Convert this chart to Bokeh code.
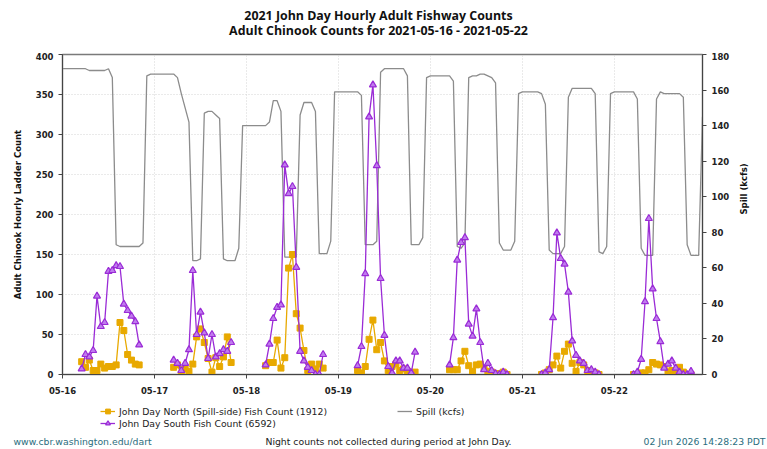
import math
import numpy as np
import pandas as pd
from bokeh.plotting import figure
from bokeh.models import (Range1d, LinearAxis, FixedTicker, SingleIntervalTicker,
                          DatetimeTickFormatter, Legend, LegendItem, Label, ColumnDataSource)
from bokeh.embed import file_html
from bokeh.resources import INLINE

# ---------------- data ----------------
start_date = "2021-05-16"
day_labels = ["05-16", "05-17", "05-18", "05-19", "05-20", "05-21", "05-22"]
count_first_hour = [5, 29, 53, 77, 101, 125, 149]   # first counted hour of each day

north_counts = [
    [16, 9, 18, 5, 5, 13, 8, 10, 10, 12, 65, 55, 25, 18, 13, 12],
    [9, 12, 0, 7, 4, 13, 47, 57, 40, 20, 3, 21, 10, 22, 47, 15],
    [11, 15, 15, 43, 8, 21, 133, 150, 76, 58, 30, 5, 13, 7, 13, 8],
    [5, 2, 10, 44, 68, 31, 40, 17, 5, 10, 13, 5, 7, 4, 1, 3],
    [6, 6, 6, 17, 29, 11, 4, 12, 13, 8, 4, 3, 1, 1, 3, 0],
    [0, 2, 6, 12, 23, 8, 29, 38, 14, 4, 15, 12, 5, 3, 2, 0],
    [0, 0, 2, 2, 6, 15, 13, 12, 10, 3, 5, 3, 9, 3, 0, 0],
]
south_counts = [
    [7, 25, 22, 30, 98, 60, 65, 129, 130, 136, 135, 88, 80, 73, 66, 37],
    [18, 14, 5, 14, 31, 130, 50, 78, 52, 20, 50, 22, 26, 31, 29, 40],
    [12, 38, 70, 84, 87, 262, 226, 235, 134, 29, 17, 9, 5, 0, 0, 25],
    [11, 35, 126, 322, 362, 261, 120, 49, 10, 2, 17, 17, 8, 8, 2, 28],
    [12, 46, 143, 165, 171, 63, 48, 82, 40, 6, 14, 5, 1, 0, 3, 0],
    [0, 2, 6, 71, 177, 145, 138, 103, 42, 24, 17, 14, 5, 6, 3, 0],
    [0, 3, 19, 91, 195, 107, 70, 41, 8, 13, 17, 8, 3, 0, 0, 4],
]
spill_kcfs = [
    172, 172, 172, 172, 172, 172, 172, 171, 171, 171, 171, 171, 172, 167, 73, 72, 72, 72, 72, 72, 72, 74, 168, 169,
    169, 169, 169, 169, 169, 169, 167, 158, 150, 142, 64, 64, 65, 147, 148, 148, 146, 144, 65, 64, 64, 64, 71, 140,
    140, 140, 140, 140, 140, 140, 142, 154, 154, 148, 66, 66, 66, 66, 146, 153, 153, 153, 148, 68, 68, 68, 75, 159,
    159, 159, 159, 159, 159, 159, 157, 73, 73, 73, 75, 170, 172, 172, 172, 172, 172, 172, 168, 73, 73, 73, 77, 167,
    168, 168, 168, 168, 168, 168, 165, 72, 71, 74, 167, 168, 168, 169, 169, 168, 167, 164, 74, 70, 70, 70, 75, 158,
    159, 159, 159, 159, 159, 158, 152, 70, 68, 68, 68, 72, 156, 161, 161, 161, 161, 161, 161, 158, 69, 68, 72, 158,
    159, 159, 159, 159, 159, 159, 155, 71, 67, 67, 67, 155, 159, 158, 158, 158, 158, 158, 156, 73, 67, 67, 67, 145,
]
north_total = 1912
south_total = 6592

title_lines = ["2021 John Day Hourly Adult Fishway Counts",
               "Adult Chinook Counts for 2021-05-16 - 2021-05-22"]
footer_left = "www.cbr.washington.edu/dart"
footer_mid = "Night counts not collected during period at John Day."
footer_right = "02 Jun 2026 14:28:23 PDT"

# ---------------- helpers ----------------
t0_ms = pd.Timestamp(start_date).value // 10**6
HOUR_MS = 3600 * 1000


def hour_ms(h):
    return t0_ms + h * HOUR_MS


def day_series(per_day):
    xs, ys = [], []
    for d, vals in enumerate(per_day):
        h0 = count_first_hour[d]
        for i, v in enumerate(vals):
            xs.append(hour_ms(h0 + i))
            ys.append(v)
        xs.append(hour_ms(h0 + len(vals) + 0.5))
        ys.append(np.nan)
    return xs, ys


nx, ny = day_series(north_counts)
sx, sy = day_series(south_counts)
spill_x = [hour_ms(h) for h in range(len(spill_kcfs))]
day_ticks = [hour_ms(24 * d) for d in range(len(day_labels))]

FONT = "DejaVu Sans"
YEL = "#E8A900"
PUR = "#9A2BD6"
PUR_FILL = "#C07BEE"
GRAY = "#8c8c8c"
W = 767

north_src = ColumnDataSource(dict(x=nx, y=ny))
south_src = ColumnDataSource(dict(x=sx, y=sy))
spill_src = ColumnDataSource(dict(x=spill_x, y=spill_kcfs))


def blank_fig(h):
    f = figure(width=W, height=h, output_backend="svg", toolbar_location=None,
               x_range=Range1d(0, W), y_range=Range1d(0, h),
               x_axis_location=None, y_axis_location=None, min_border=0)
    f.xgrid.visible = False
    f.ygrid.visible = False
    f.outline_line_color = None
    f.background_fill_color = "white"
    f.border_fill_color = "white"
    return f


def add_label(f, text, x, y, size, style="normal", align="center", color="#111111", font=FONT):
    f.add_layout(Label(x=x, y=y, text=text,
                       text_font=font, text_font_size=size, text_font_style=style,
                       text_align=align, text_baseline="middle", text_color=color))


def draw_series(f, y_range_name="default"):
    sp = f.line("x", "y", source=spill_src, y_range_name=y_range_name, line_color=GRAY, line_width=1.3)
    nl = f.line("x", "y", source=north_src, line_color=YEL, line_width=1.3)
    ns = f.scatter("x", "y", source=north_src, marker="square", size=6, fill_color=YEL, line_color=YEL)
    sl = f.line("x", "y", source=south_src, line_color=PUR, line_width=1.3)
    ss = f.scatter("x", "y", source=south_src, marker="triangle", size=7,
                   fill_color=PUR_FILL, line_color=PUR, line_width=1.2)
    return sp, nl, ns, sl, ss


# ---------------- title strip ----------------
TOP_H = 52
top = blank_fig(TOP_H)
add_label(top, title_lines[0], 378, TOP_H - 15, "12.4px", "bold", font="Open Sans")
add_label(top, title_lines[1], 378, TOP_H - 30, "12.4px", "bold", font="Open Sans")

# ---------------- main chart ----------------
MAIN_H = 346
p = figure(width=W, height=MAIN_H, output_backend="svg", toolbar_location=None,
           x_axis_type="datetime",
           x_range=Range1d(hour_ms(0), hour_ms(167)),
           y_range=Range1d(0, 400),
           min_border_left=62, min_border_right=65, min_border_top=2, min_border_bottom=24)
p.outline_line_color = "#7a7a7a"
p.outline_line_width = 1.5
p.background_fill_color = "white"
p.border_fill_color = "white"

p.extra_y_ranges = {"spill": Range1d(0, 180)}

p.xaxis.ticker = FixedTicker(ticks=day_ticks)
fmt = "%m-%d"
p.xaxis.formatter = DatetimeTickFormatter(days=fmt, months=fmt, hours=fmt, years=fmt,
                                          milliseconds=fmt, seconds=fmt, minsec=fmt,
                                          minutes=fmt, hourmin=fmt)
p.yaxis.ticker = SingleIntervalTicker(interval=50)
p.yaxis.axis_label = "Adult Chinook Hourly Ladder Count"

right = LinearAxis(y_range_name="spill", axis_label="Spill (kcfs)",
                   ticker=SingleIntervalTicker(interval=20))
p.add_layout(right, "right")

for ax in [p.xaxis[0], p.yaxis[0], right]:
    ax.axis_line_color = "#444444"
    ax.major_tick_line_color = "#444444"
    ax.minor_tick_line_color = None
    ax.major_tick_in = 0
    ax.major_tick_out = 4
    ax.major_label_text_font = FONT
    ax.major_label_text_font_style = "bold"
    ax.major_label_text_font_size = "8.5px"
    ax.major_label_text_color = "#222222"
    ax.axis_label_text_font = FONT
    ax.axis_label_text_font_style = "bold"
    ax.axis_label_text_font_size = "8.5px"
    ax.axis_label_text_color = "#111111"
p.xaxis.major_label_standoff = 8
p.yaxis.axis_label_standoff = 10
right.axis_label_standoff = 12
right.axis_label_orientation = math.pi / 2

p.xgrid.ticker = FixedTicker(ticks=day_ticks)
for g in [p.xgrid[0], p.ygrid[0]]:
    g.grid_line_color = "#d4d4d4"
    g.grid_line_dash = "1 2"
    g.grid_line_width = 1

draw_series(p, "spill")

# ---------------- legend + footer strip ----------------
BOT_H = 449 - TOP_H - MAIN_H
bot = blank_fig(BOT_H)
bot.extra_y_ranges = {"spill": Range1d(0, 180)}
# the same series, entirely outside this strip's view, serve as legend keys
k_sp, k_nl, k_ns, k_sl, k_ss = draw_series(bot, "spill")


def make_legend(items, loc):
    return Legend(items=items, location=loc, orientation="vertical",
                  border_line_color=None, background_fill_alpha=0,
                  padding=0, margin=0, spacing=0,
                  glyph_width=15, glyph_height=12, label_height=12, label_standoff=4,
                  label_text_font=FONT, label_text_font_size="9.3px", label_text_color="#222222")


bot.add_layout(make_legend([
    LegendItem(label=f"John Day North (Spill-side) Fish Count ({north_total})", renderers=[k_nl, k_ns]),
    LegendItem(label=f"John Day South Fish Count ({south_total})", renderers=[k_sl, k_ss]),
], (100, BOT_H - 31)))
bot.add_layout(make_legend([LegendItem(label="Spill (kcfs)", renderers=[k_sp])], (397, BOT_H - 19)))

FOOT_Y = 8
add_label(bot, footer_left, 13, FOOT_Y, "9.3px", align="left", color="#2B6E7E")
add_label(bot, footer_mid, 388, FOOT_Y, "9.3px", color="#222222")
add_label(bot, footer_right, 765, FOOT_Y, "9.3px", align="right", color="#2B6E7E")

open("out.html", "w").write(file_html([top, p, bot], INLINE))
